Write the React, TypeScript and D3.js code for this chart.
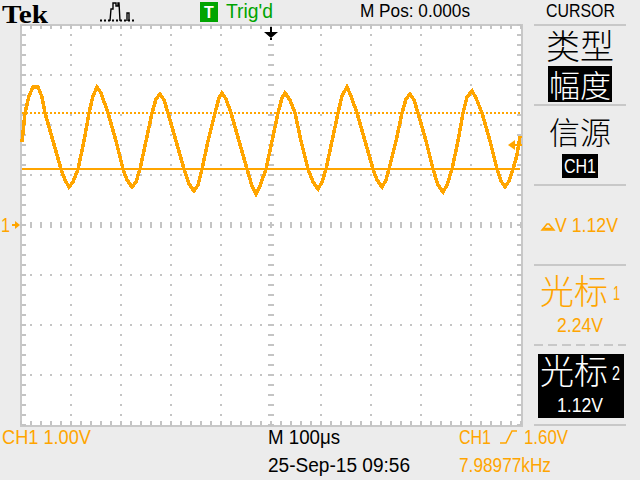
import React from 'react';
import * as d3 from 'd3';

// CH1 trace: time in microseconds, level in volts
const traceMicros = [
  -498, -492, -484, -476, -466, -458, -452, -436, -420, -412, -404, -396, -386, -374, -364, -356, -348, -340, -326,
  -310, -296, -288, -278, -270, -262, -250, -238, -230, -222, -214, -206, -190, -174, -164, -154, -146, -138, -126,
  -112, -104, -98, -90, -80, -64, -48, -38, -30, -22, -10, 2, 14, 22, 28, 38, 48, 60, 74, 84, 94, 102, 110, 122, 134,
  142, 152, 160, 172, 188, 204, 212, 222, 230, 236, 250, 262, 270, 278, 286, 294, 310, 324, 334, 344, 352, 362, 374,
  384, 392, 402, 410, 422, 438, 452, 460, 468, 476, 484, 492, 498,
];
const traceVolts = [
  1.66, 2.24, 2.58, 2.76, 2.76, 2.56, 2.24, 1.68, 1.12, 0.9, 0.76, 0.86, 1.12, 1.68, 2.24, 2.58, 2.76, 2.64, 2.24,
  1.68, 1.12, 0.9, 0.76, 0.86, 1.12, 1.68, 2.24, 2.52, 2.62, 2.5, 2.24, 1.68, 1.12, 0.82, 0.68, 0.8, 1.12, 1.68,
  2.24, 2.54, 2.64, 2.52, 2.24, 1.68, 1.12, 0.78, 0.62, 0.78, 1.12, 1.68, 2.24, 2.54, 2.64, 2.5, 2.24, 1.68, 1.12,
  0.86, 0.72, 0.86, 1.12, 1.68, 2.24, 2.58, 2.76, 2.58, 2.24, 1.68, 1.12, 0.9, 0.76, 0.9, 1.12, 1.68, 2.24, 2.52,
  2.62, 2.5, 2.24, 1.68, 1.12, 0.8, 0.66, 0.8, 1.12, 1.68, 2.24, 2.56, 2.68, 2.54, 2.24, 1.68, 1.12, 0.88, 0.76,
  0.88, 1.12, 1.4, 1.78,
];
const cursorVolts = [2.24, 1.12];
const timeDivisions = [-400, -300, -200, -100, 0, 100, 200, 300, 400];
const voltDivisions = [3, 2, 1, 0, -1, -2, -3];

const ORANGE = '#ffa500';
const GREEN = '#00a400';
const GRID = '#c4c4c4';
const PANEL = '#ececec';
const RULE = '#c8c8c8';

const SANS = '"Liberation Sans", Arial, sans-serif';
const CJK = '"Noto Sans CJK SC", sans-serif';

// 50px per division, 1.00V/div, 100us/div
const x = d3.scaleLinear().domain([-500, 500]).range([21, 521]);
const y = d3.scaleLinear().domain([-4, 4]).range([425, 25]);
const y0 = y(0) as number;

const traceLine = d3
  .line<number>()
  .x((_, i) => x(traceMicros[i]) as number)
  .y((d) => y(d) as number);

function Label({ text, px, py, size = 20, width, fill = '#000', font = SANS, anchor = 'start', weight = 'normal' }: any) {
  return (
    <text x={px} y={py} fontSize={size} fill={fill} fontFamily={font} textAnchor={anchor} fontWeight={weight}
      textLength={width} lengthAdjust={width ? 'spacingAndGlyphs' : undefined}>
      {text}
    </text>
  );
}

function Graticule() {
  const stepX = d3.range(-500, 501, 20);
  const stepY = d3.range(-4, 4.01, 0.2);
  const dot = { fill: GRID, shapeRendering: 'crispEdges' as const };
  return (
    <g>
      {timeDivisions.map((t) =>
        stepY.map((v) => (
          <rect key={`v${t}${v}`} x={(x(t) as number) - (t === 0 ? 3 : 1)} y={(y(v) as number) - 1}
            width={t === 0 ? 6 : 2} height={2} {...dot} />
        )),
      )}
      {voltDivisions.map((v) =>
        stepX.map((t) => (
          <rect key={`h${v}${t}`} x={(x(t) as number) - 1} y={(y(v) as number) - (v === 0 ? 3 : 1)}
            width={2} height={v === 0 ? 6 : 2} {...dot} />
        )),
      )}
      {stepX.map((t) => (
        <g key={`e${t}`}>
          <rect x={(x(t) as number) - 1} y={25} width={2} height={4} {...dot} />
          <rect x={(x(t) as number) - 1} y={421} width={2} height={4} {...dot} />
        </g>
      ))}
      {stepY.map((v) => (
        <g key={`s${v}`}>
          <rect x={22} y={(y(v) as number) - 1} width={4} height={2} {...dot} />
          <rect x={517} y={(y(v) as number) - 1} width={4} height={2} {...dot} />
        </g>
      ))}
    </g>
  );
}

function SidePanel() {
  const rules = [24, 104, 184, 264, 424];
  return (
    <g>
      {rules.map((r) => (
        <rect key={r} x={534} y={r} width={92} height={2} fill={RULE} />
      ))}
      <line x1={534} x2={626} y1={345} y2={345} stroke={RULE} strokeWidth={2} strokeDasharray="9 5" />
      <Label text="CURSOR" px={546} py={17} size={19} width={69} />
      <Label text="类型" px={580} py={59} size={34} font={CJK} anchor="middle" weight={300} />
      <rect x={548} y={66} width={64} height={36} fill="#000" />
      <Label text="幅度" px={580} py={97} size={31} fill="#fff" font={CJK} anchor="middle" weight={300} />
      <Label text="信源" px={580} py={144} size={31} font={CJK} anchor="middle" weight={300} />
      <rect x={562} y={154} width={36} height={24} fill="#000" />
      <Label text="CH1" px={564} py={173} size={20} width={32} fill="#fff" />
      <path d="M542,230 l5,-6 h2 l5,6 z M544.5,228.5 h7" fill="none" stroke={ORANGE} strokeWidth={1.5} />
      <Label text="V 1.12V" px={555} py={232} width={63} fill={ORANGE} />
      <Label text="光标" px={540} py={304} size={34} fill={ORANGE} font={CJK} weight={300} />
      <Label text="1" px={613} py={300} size={20} width={7} fill={ORANGE} />
      <Label text="2.24V" px={557} py={332} width={46} fill={ORANGE} />
      <rect x={538} y={354} width={86} height={64} fill="#000" />
      <Label text="光标" px={540} py={384} size={34} fill="#fff" font={CJK} weight={300} />
      <Label text="2" px={612} py={380} size={20} width={8} fill="#fff" />
      <Label text="1.12V" px={557} py={412} width={46} fill="#fff" />
    </g>
  );
}

export default function App() {
  return (
    <svg width={640} height={480} style={{ position: 'absolute', left: 0, top: 0 }}>
      <rect width={640} height={480} fill={PANEL} />
      {/* screen */}
      <rect x={21} y={25} width={501} height={401} fill="#fff" stroke={RULE} strokeWidth={2} />
      <Graticule />

      {/* cursors */}
      <line x1={22} x2={520} y1={y(cursorVolts[0])} y2={y(cursorVolts[0])} stroke={ORANGE} strokeWidth={2} strokeDasharray="2 2" />
      <line x1={22} x2={520} y1={y(cursorVolts[1])} y2={y(cursorVolts[1])} stroke={ORANGE} strokeWidth={2} />

      <path d={traceLine(traceVolts) || ''} fill="none" stroke={ORANGE} strokeWidth={3.5} shapeRendering="crispEdges" />

      {/* markers */}
      <path d={`M${x(0)},38 l-7,-6 h6 v-5 h2 v5 h6 z M${(x(0) as number) - 1},38 h2 v2 h-2 z`} fill="#000" />
      <path d={`M20,${y0} l-5,-4 v3 h-3 v2 h3 v3 z`} fill={ORANGE} />
      <Label text="1" px={1} py={232} size={20} width={9} fill={ORANGE} />
      <path d="M508,145 l7,-5 v4 h7 v2 h-7 v4 z" fill={ORANGE} />

      {/* header */}
      <Label text="Tek" px={2} py={23} size={26} width={46} font='"Liberation Serif", serif' weight="bold" />
      <path d="M110,21 L111,9 h2 v-6 h3 v3 h2 v-3 h1 L120,21 M127,21 v-8 h2 v8" fill="none" stroke="#000" strokeWidth={1.4} />
      <line x1={100} x2={136} y1={20.5} y2={20.5} stroke="#000" strokeWidth={2} strokeDasharray="2 2" />
      <rect x={200} y={2} width={18} height={20} fill={GREEN} />
      <Label text="T" px={209} py={18} size={16} fill="#fff" anchor="middle" weight="bold" />
      <Label text="Trig'd" px={226} py={18} width={47} fill={GREEN} />
      <Label text="M Pos: 0.000s" px={360} py={17} size={19} width={110} />

      {/* footer */}
      <Label text="CH1  1.00V" px={2} py={444} width={89} fill={ORANGE} />
      <Label text="M 100μs" px={268} py={444} width={72} />
      <Label text="25-Sep-15 09:56" px={268} py={472} width={142} />
      <Label text="CH1" px={459} py={444} width={32} fill={ORANGE} />
      <path d="M500,443 h6 l6,-12 h5" fill="none" stroke={ORANGE} strokeWidth={1.5} />
      <Label text="1.60V" px={524} py={444} width={44} fill={ORANGE} />
      <Label text="7.98977kHz" px={459} py={472} width={92} fill={ORANGE} />

      <SidePanel />
    </svg>
  );
}
